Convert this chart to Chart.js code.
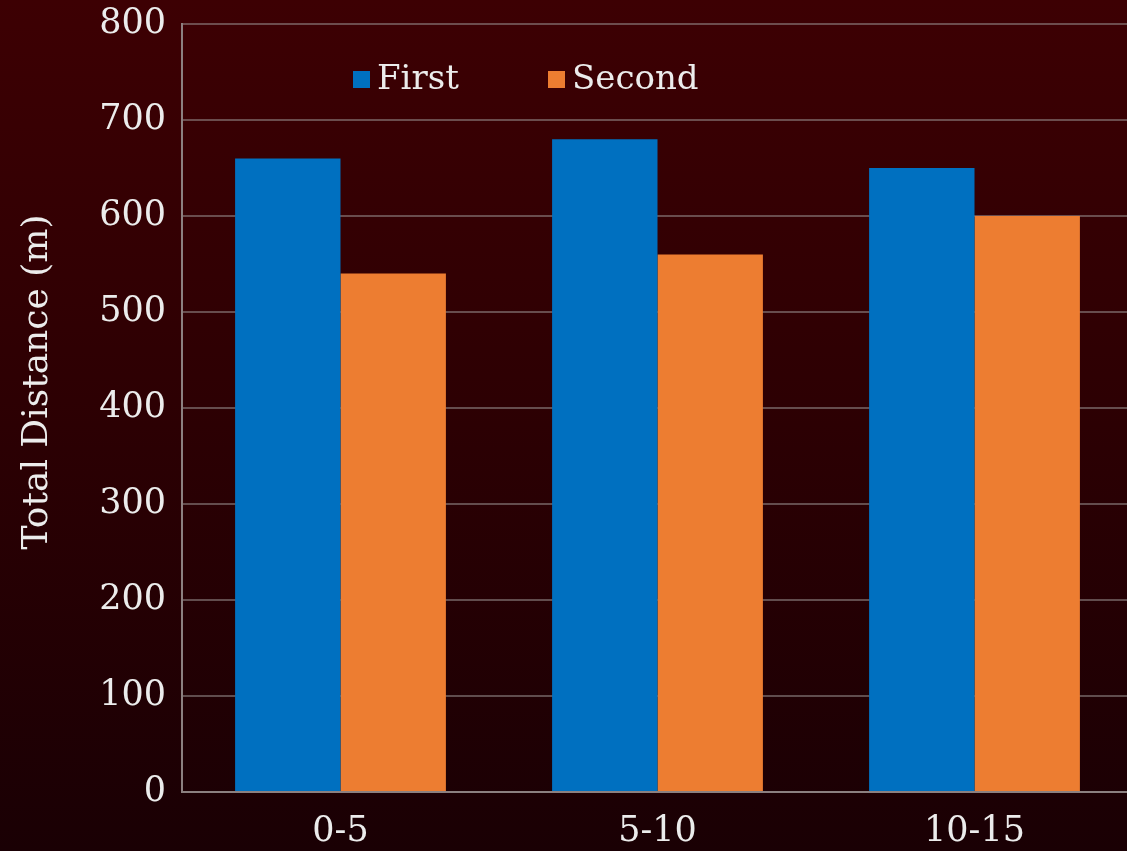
<!DOCTYPE html>
<html>
<head>
<meta charset="utf-8">
<script src="https://cdn.jsdelivr.net/npm/chart.js@4/dist/chart.umd.min.js"></script>
<style>
  html, body { margin: 0; padding: 0; overflow: hidden; width: 1127px; height: 851px; }
  body { background: linear-gradient(to bottom, #3d0003 0%, #2c0003 50%, #1a0004 100%); }
  #wrap { width: 1140px; height: 851px; position: relative; }
</style>
</head>
<body>
<div id="wrap"><canvas id="c" width="1140" height="851"></canvas></div>
<script>
const categories = ['0-5', '5-10', '10-15'];
const firstValues = [660, 680, 650];
const secondValues = [540, 560, 600];
const seriesNames = ['First', 'Second'];
const yTicks = [0, 100, 200, 300, 400, 500, 600, 700, 800];
const yAxisTitle = 'Total Distance (m)';

const FONT = '"DejaVu Serif", "Liberation Serif", serif';
const TEXT = '#ececec';

// Legend drawn inside the plot area, top left of centre
const innerLegend = {
  id: 'innerLegend',
  afterDraw(chart) {
    const ctx = chart.ctx;
    const area = chart.chartArea;
    const y = area.top + 55;
    const starts = [area.left + 171, area.left + 366];
    ctx.save();
    ctx.font = '34px ' + FONT;
    ctx.textBaseline = 'middle';
    chart.data.datasets.forEach((ds, i) => {
      const x = starts[i];
      ctx.fillStyle = ds.backgroundColor;
      ctx.fillRect(x, y - 8, 17, 17);
      ctx.fillStyle = TEXT;
      ctx.textAlign = 'left';
      ctx.fillText(ds.label, x + 24, y + 1);
    });
    ctx.restore();
  }
};

// Rotated y-axis title, sitting a little above the plot's middle
const yTitle = {
  id: 'yTitle',
  afterDraw(chart) {
    const ctx = chart.ctx;
    const area = chart.chartArea;
    ctx.save();
    ctx.translate(38, (area.top + area.bottom) / 2 - 26);
    ctx.rotate(-Math.PI / 2);
    ctx.font = '36px ' + FONT;
    ctx.fillStyle = TEXT;
    ctx.textAlign = 'center';
    ctx.textBaseline = 'middle';
    ctx.fillText(yAxisTitle, 0, 0);
    ctx.restore();
  }
};

new Chart(document.getElementById('c'), {
  type: 'bar',
  data: {
    labels: categories,
    datasets: [
      { label: seriesNames[0], data: firstValues, backgroundColor: '#0070c0' },
      { label: seriesNames[1], data: secondValues, backgroundColor: '#ed7d31' }
    ]
  },
  options: {
    responsive: false,
    animation: false,
    devicePixelRatio: 1,
    layout: { padding: { top: 24, right: 7, left: 0, bottom: 0 } },
    datasets: { bar: { categoryPercentage: 0.665, barPercentage: 1.0 } },
    plugins: { legend: { display: false }, tooltip: { enabled: false } },
    scales: {
      x: {
        grid: { display: false, drawTicks: false },
        border: { display: true, color: '#8c8080', width: 2 },
        ticks: { color: TEXT, font: { family: FONT, size: 35 }, padding: 19 },
        afterFit(scale) { scale.height = 59; scale.paddingLeft = 0; scale.paddingRight = 0; }
      },
      y: {
        min: 0, max: 800,
        afterBuildTicks(scale) { scale.ticks = yTicks.map(v => ({ value: v })); },
        grid: { color: 'rgba(150,140,140,0.55)', lineWidth: 2, drawTicks: false },
        border: { display: true, color: '#8c8080', width: 2 },
        ticks: { color: TEXT, font: { family: FONT, size: 35 }, padding: 16 },
        title: { display: false },
        afterFit(scale) { scale.width = 182; scale.paddingTop = 0; scale.paddingBottom = 0; }
      }
    }
  },
  plugins: [innerLegend, yTitle]
});
</script>
</body>
</html>
